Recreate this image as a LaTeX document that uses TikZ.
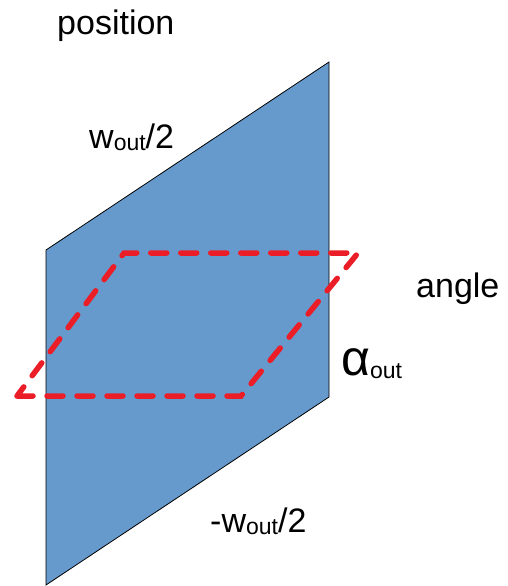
\documentclass[tikz,border=0pt]{standalone}
\usepackage{fontspec}
\setmainfont{Liberation Sans}
\usepackage{tikz}
\usetikzlibrary{positioning}

\definecolor{planeblue}{RGB}{102,153,204}
\definecolor{dashred}{RGB}{235,30,40}

\newcommand{\subout}{\raisebox{-0.15ex}{\fontsize{23}{23}\selectfont out}}

\begin{document}
\begin{tikzpicture}[
    x=1pt, y=-1pt,
    plane/.style={fill=planeblue, draw=black, line width=0.8pt, line join=miter},
    anglebox/.style={draw=dashred, line width=5.5pt, line cap=round, dash pattern=on 16pt off 14pt},
    lbl/.style={anchor=base west, inner sep=0pt, font=\fontsize{34}{34}\selectfont}
    ]
    \useasboundingbox (0,0) rectangle (508,586);
    % position plane
    \filldraw[plane] (46,250) -- (329,62) -- (329,397) -- (46,585) -- cycle;
    % angle plane
    \draw[anglebox] (17,396) -- (241,396) -- (358,253) -- (124,253) -- cycle;

    \node[lbl] (pos) at (57,35) {position};
    \node[lbl] (wtop) at (89,148) {w\subout/2};
    \node[lbl] (ang) at (416,297) {angle};
    \node[lbl, font=\fontsize{50}{50}\selectfont] (alpha) at (341,375) {α\subout};
    \node[lbl] (wbot) at (210,532) {-w\subout/2};
\end{tikzpicture}
\end{document}
